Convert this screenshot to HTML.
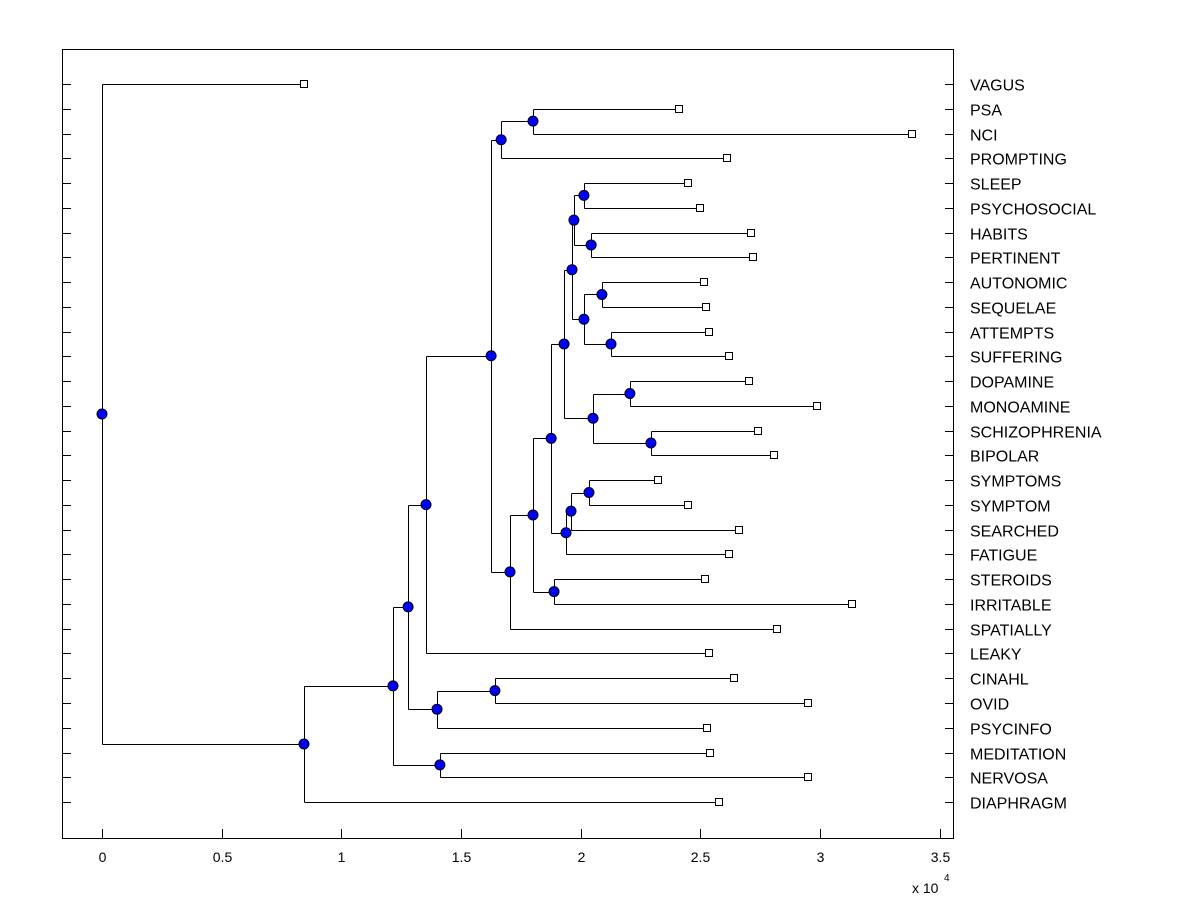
<!DOCTYPE html>
<html><head><meta charset="utf-8"><style>
body{margin:0;background:#fff;}
svg{display:block;font-family:"Liberation Sans",Arial,sans-serif;}
</style></head><body>
<svg id="c" width="1200" height="900" viewBox="0 0 1200 900"></svg>
<script>
const leafNames=["VAGUS","PSA","NCI","PROMPTING","SLEEP","PSYCHOSOCIAL","HABITS","PERTINENT","AUTONOMIC","SEQUELAE","ATTEMPTS","SUFFERING","DOPAMINE","MONOAMINE","SCHIZOPHRENIA","BIPOLAR","SYMPTOMS","SYMPTOM","SEARCHED","FATIGUE","STEROIDS","IRRITABLE","SPATIALLY","LEAKY","CINAHL","OVID","PSYCINFO","MEDITATION","NERVOSA","DIAPHRAGM"];
const leafDist=[0.844,2.411,3.385,2.612,2.449,2.499,2.712,2.720,2.516,2.524,2.537,2.620,2.704,2.988,2.741,2.808,2.323,2.449,2.662,2.620,2.520,3.134,2.821,2.537,2.641,2.950,2.528,2.541,2.950,2.578];
// internal nodes: [id, distance, child1, child2]; leaves referenced as "L<index>"
const nodeIds=["root","A","B","D","C","F","G","E","H","I","K","J","L","N","M","P","Q","R","O","T","U","V","S","W","Y","Z","X","AA","BB"];
const nodeDist=[0,0.844,1.216,1.412,1.279,1.400,1.642,1.354,1.626,1.668,1.801,1.705,1.801,1.889,1.877,1.939,1.960,2.035,1.931,2.052,2.206,2.294,1.964,1.972,2.014,2.044,2.014,2.089,2.127];
const nodeKids=[["L0","A"],["B","L29"],["C","D"],["L27","L28"],["E","F"],["G","L26"],["L24","L25"],["H","L23"],["I","J"],["K","L3"],["L1","L2"],["L","L22"],["M","N"],["L20","L21"],["O","P"],["Q","L19"],["R","L18"],["L16","L17"],["S","T"],["U","V"],["L12","L13"],["L14","L15"],["W","X"],["Y","Z"],["L4","L5"],["L6","L7"],["AA","BB"],["L8","L9"],["L10","L11"]];
const xTicks=[0,0.5,1,1.5,2,2.5,3,3.5];

const svg=document.getElementById('c');const NS="http://www.w3.org/2000/svg";
const X0=62,X1=953,Y0=49,Y1=838;
const xs=v=>102+v*239.3;
const ys=i=>84+i*24.76;
function el(t,a,p){const e=document.createElementNS(NS,t);for(const k in a)e.setAttribute(k,a[k]);(p||svg).appendChild(e);return e;}
const box=el('rect',{x:X0+0.5,y:Y0+0.5,width:X1-X0,height:Y1-Y0,fill:'none',stroke:'#000'});


xTicks.forEach(t=>{const x=Math.round(xs(t))+0.5;
 const l=el('line',{x1:x,y1:Y1,x2:x,y2:Y1-9,stroke:'#000'});
 
 
 const tx=el('text',{x:x,y:862,'font-size':14,'text-anchor':'middle'});tx.textContent=String(t);
 
 
});
const ex=el('text',{x:912,y:893,'font-size':14});ex.textContent='x 10';


const ex2=el('text',{x:944,y:881,'font-size':10});ex2.textContent='4';


leafNames.forEach((n,i)=>{const y=Math.round(ys(i))+0.5;
 const a=el('line',{x1:X0,y1:y,x2:X0+9,y2:y,stroke:'#000'});
 
 
 const b=el('line',{x1:X1-8,y1:y,x2:X1,y2:y,stroke:'#000'});
 
 
 const t=el('text',{x:970,y:y+6,'font-size':16});t.textContent=n;
 
 
});
const idx={};nodeIds.forEach((id,i)=>idx[id]=i);
function pos(ref){
 if(/^L\d+$/.test(ref)){const i=+ref.slice(1);return {x:xs(leafDist[i]),y:ys(i)};}
 const i=idx[ref];const p1=pos(nodeKids[i][0]),p2=pos(nodeKids[i][1]);
 return {x:xs(nodeDist[i]),y:(p1.y+p2.y)/2,c:[p1,p2]};
}
const lines=el('g',{stroke:'#000','stroke-width':1,fill:'none'});
const marks=[];
function draw(ref){
 const p=pos(ref);
 if(p.c){
  const px=Math.round(p.x)+0.5;
  const v=el('path',{d:`M${px},${Math.round(p.c[0].y)+0.5}V${Math.round(p.c[1].y)+0.5}`},lines);
  
  
  p.c.forEach(c=>{const h=el('path',{d:`M${px},${Math.round(c.y)+0.5}H${c.x}`},lines);
   
   });
  nodeKids[idx[ref]].forEach(draw);
  marks.push(['n',p]);
 } else marks.push(['l',p]);
}
draw('root');
marks.forEach(([k,p])=>{
 if(k==='n'){const c=el('circle',{cx:p.x,cy:p.y,r:5,fill:'#0000ff',stroke:'#000'});
  
  }
 else{const r=el('rect',{x:Math.round(p.x)-3.5,y:Math.round(p.y)-3.5,width:7,height:7,fill:'#fff',stroke:'#000'});
  
  }
});
</script>
</body></html>
